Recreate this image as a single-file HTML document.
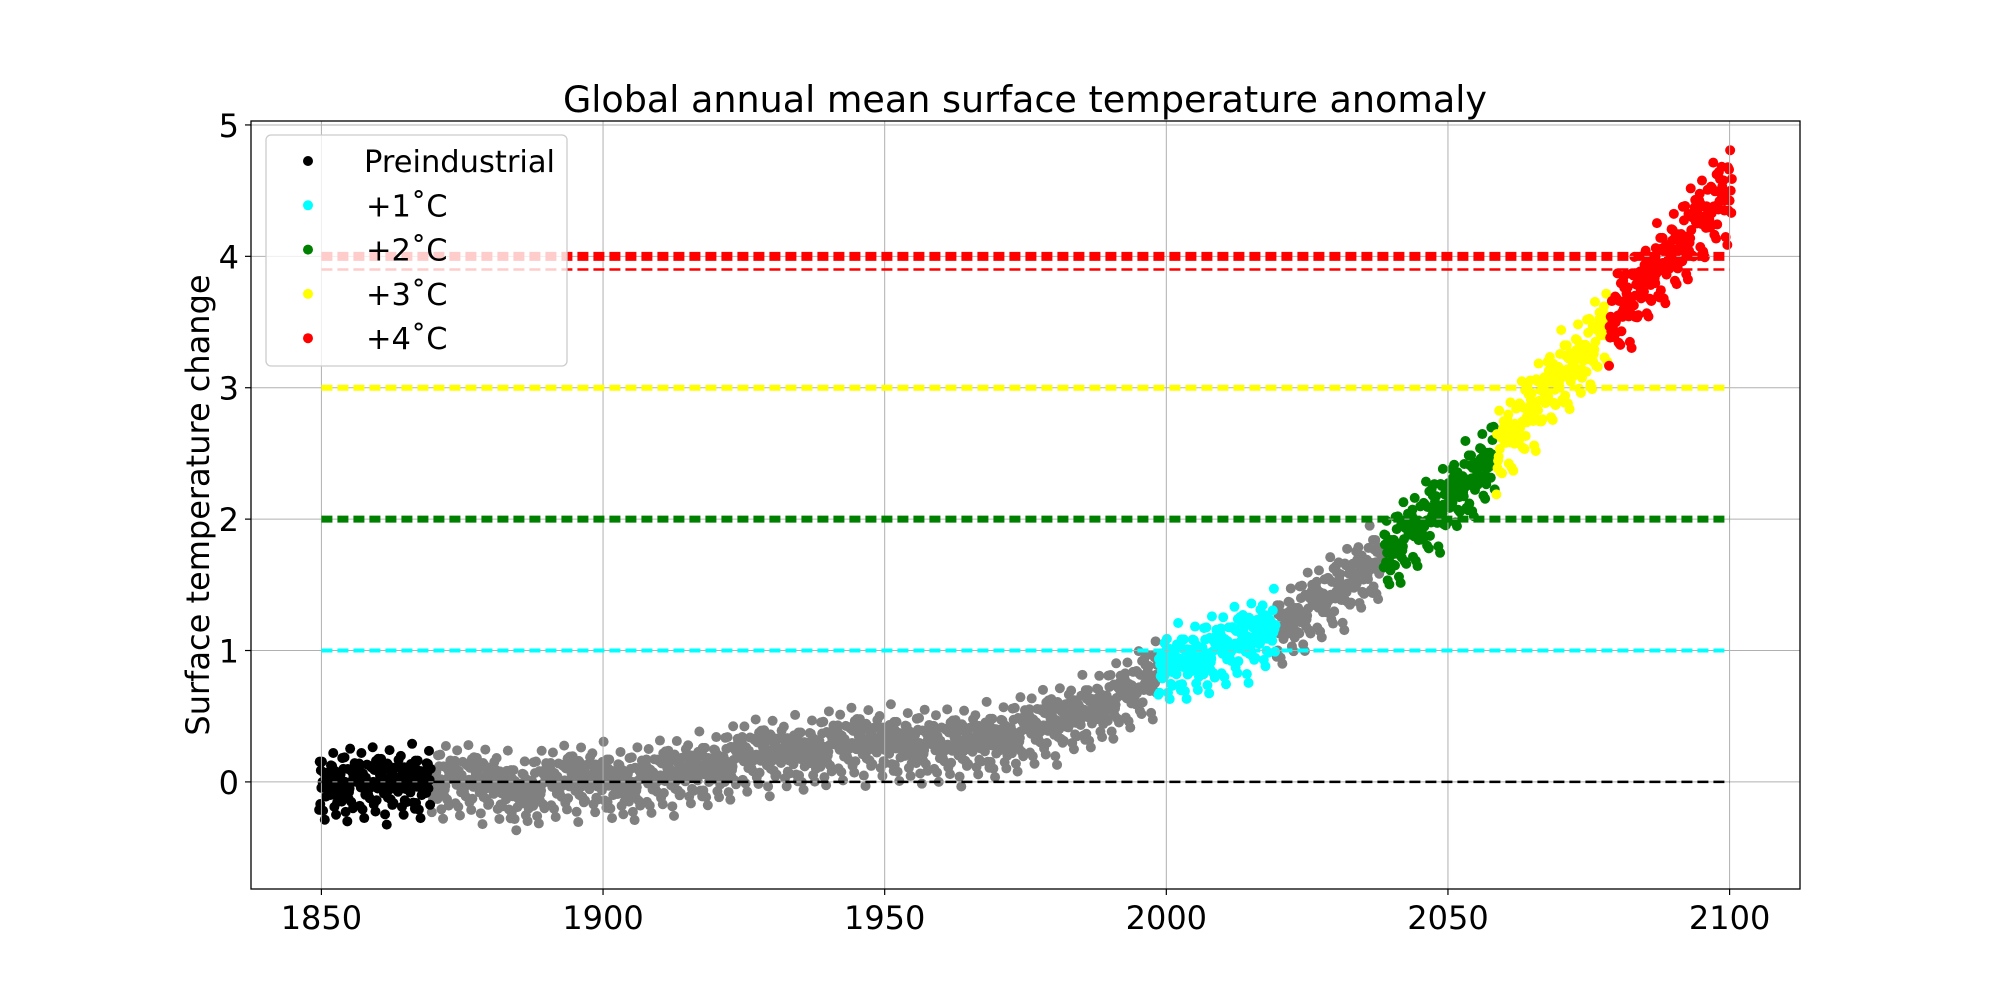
<!DOCTYPE html>
<html><head><meta charset="utf-8"><style>
html,body{margin:0;padding:0;background:#fff;}
svg{display:block;font-family:"DejaVu Sans","Liberation Sans",sans-serif;}
</style></head><body>
<svg id="chart" width="2000" height="1000">
<rect width="2000" height="1000" fill="#fff"/>
<text x="1025" y="112" font-size="36.5" text-anchor="middle">Global annual mean surface temperature anomaly</text>
<text transform="translate(209,505) rotate(-90)" font-size="32" text-anchor="middle">Surface temperature change</text>
<g id="marks"></g>
<g id="grid"></g>
<g id="lines"></g>
<g id="axes"></g>
<g id="legend"></g>
</svg>
<script>
const meanYears=[1850,1855,1860,1865,1870,1875,1880,1885,1890,1895,1900,1905,1910,1915,1920,1925,1930,1935,1940,1945,1950,1955,1960,1965,1970,1975,1980,1985,1990,1995,2000,2005,2010,2015,2020,2025,2030,2035,2040,2045,2050,2055,2060,2065,2070,2075,2080,2085,2090,2095,2100];
const meanValues=[0,0,0,0,0.02,0.02,0.0,-0.08,0.0,0.02,0.02,0.0,0.05,0.08,0.12,0.2,0.22,0.22,0.28,0.3,0.3,0.3,0.28,0.3,0.33,0.4,0.45,0.52,0.62,0.72,0.88,0.95,1.02,1.1,1.18,1.32,1.45,1.6,1.78,1.95,2.15,2.35,2.58,2.85,3.1,3.3,3.55,3.8,4.05,4.3,4.5];
const memberOffsets=[-0.25,-0.14,-0.05,0.0,0.07,0.14,0.22,-0.19,0.11];
const memberVariation=[1.0,0.6,1.2,0.8,-0.4,1.1,0.5,0.9,-0.7,1.3,0.7,0.3,1.0,-0.2,0.85,1.15,0.4];
const xJitter=[-0.4,-0.2,0,0.2,0.4,-0.3,0.1,0.3,-0.1];
const windowNames=["Preindustrial","+1˚C","+2˚C","+3˚C","+4˚C"];
const windowColors=["black","cyan","green","yellow","red"];
const windowStart=[1850,1999,2039,2059,2079];
const windowEnd=[1869,2019,2058,2078,2100];
const levelValues=[0,1,2,3,4,3.9];
const levelColors=["black","cyan","green","yellow","red","red"];
const levelWidths=[2.5,4,7,6,9,2.5];
const xTicks=[1850,1900,1950,2000,2050,2100];
const yTicks=[0,1,2,3,4,5];

const L=251,R=1800,T=121,B=889;
const xMin=1837.5,xMax=2112.5,yMin=-0.815,yMax=5.03;
const X=v=>L+(v-xMin)/(xMax-xMin)*(R-L);
const Y=v=>B-(v-yMin)/(yMax-yMin)*(B-T);
const NS="http://www.w3.org/2000/svg";
function mk(tag,attrs,parent){const e=document.createElementNS(NS,tag);for(const k in attrs)e.setAttribute(k,attrs[k]);parent.appendChild(e);return e;}
function meanAt(yr){for(let i=0;i<meanYears.length-1;i++){if(yr<=meanYears[i+1]){const t=(yr-meanYears[i])/(meanYears[i+1]-meanYears[i]);return meanValues[i]+t*(meanValues[i+1]-meanValues[i]);}}return meanValues[meanValues.length-1];}

const marks=document.getElementById('marks');
const linesG=document.getElementById('lines');
levelValues.forEach((v,i)=>{
  const ln=mk('line',{x1:X(1850),x2:X(2100),y1:Y(v),y2:Y(v),stroke:levelColors[i],'stroke-width':levelWidths[i],'stroke-dasharray':'11,5'},linesG);
  
  
});
const grayG=mk('g',{},marks),colG=mk('g',{},marks);
for(let yr=1850;yr<=2100;yr++){
  let w=-1;for(let k=0;k<windowStart.length;k++){if(yr>=windowStart[k]&&yr<=windowEnd[k])w=k;}
  memberOffsets.forEach((off,m)=>{
    const vv=memberVariation[(yr+m*5)%memberVariation.length];
    const val=meanAt(yr)+off*vv*(1+Math.max(0,meanAt(yr))*0.06);
    const col=w>=0?windowColors[w]:'gray';
    const c=mk('circle',{cx:X(yr+xJitter[m]),cy:Y(val),r:5,fill:col},w>=0?colG:grayG);
    
    
  });
}
const grid=document.getElementById('grid');
xTicks.forEach(t=>{const g=mk('line',{x1:X(t),x2:X(t),y1:T,y2:B,stroke:'#b0b0b0','stroke-width':1},grid);});
yTicks.forEach(t=>{const g=mk('line',{x1:L,x2:R,y1:Y(t),y2:Y(t),stroke:'#b0b0b0','stroke-width':1},grid);});
const axes=document.getElementById('axes');
const fr=mk('rect',{x:L,y:T,width:R-L,height:B-T,fill:'none',stroke:'black','stroke-width':1.3},axes);

xTicks.forEach(t=>{
  mk('line',{x1:X(t),x2:X(t),y1:B,y2:B+6,stroke:'black','stroke-width':1.2},axes);
  const tx=mk('text',{x:X(t),y:B+40,'font-size':32,'text-anchor':'middle'},axes);tx.textContent=t;
  
});
yTicks.forEach(t=>{
  mk('line',{x1:L-6,x2:L,y1:Y(t),y2:Y(t),stroke:'black','stroke-width':1.2},axes);
  const tx=mk('text',{x:L-12,y:Y(t)+12,'font-size':32,'text-anchor':'end'},axes);tx.textContent=t;
  
});
const lg=document.getElementById('legend');
const box=mk('rect',{x:266,y:135,width:301,height:231,rx:5,fill:'rgba(255,255,255,0.8)',stroke:'#cccccc','stroke-width':1.3},lg);

windowNames.forEach((n,i)=>{
  const cy=161+i*44.3;
  const c=mk('circle',{cx:308,cy:cy,r:5,fill:windowColors[i]},lg);
  
  const t=mk('text',{x:n==='Preindustrial'?364:366,y:cy+11,'font-size':30.5},lg);t.textContent=n;
  
});
</script>
</body></html>
